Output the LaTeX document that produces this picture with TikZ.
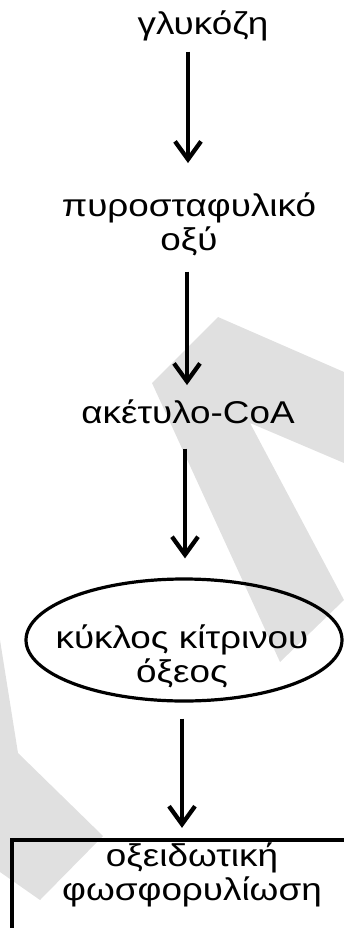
\documentclass[tikz,border=0pt]{standalone}
\usepackage{fontspec}
\setmainfont{Liberation Sans}[FakeStretch=1.17]
\usetikzlibrary{arrows.meta,shapes.geometric}
\definecolor{wm}{RGB}{224,224,224}
\begin{document}
\begin{tikzpicture}[x=1pt,y=-1pt,
  lbl/.style={inner sep=0pt, font=\fontsize{31.5}{34}\selectfont, align=center, anchor=base},
  conn/.style={line width=4.3pt, -{Straight Barb[length=18pt,width=26pt]}},
  ellbox/.style={ellipse, draw, line width=3.2pt, minimum width=316pt, minimum height=122pt, inner sep=0pt},
  rectbox/.style={rectangle, draw, line width=4.3pt, minimum width=356pt, minimum height=110pt, inner sep=0pt}
  ]
\useasboundingbox (0,0) rectangle (344,928);
\clip (0,0) rectangle (344,928);
% watermark
\fill[wm] (152,383) -- (218,317) -- (344,372) -- (344,463) -- (250,423) -- (344,600) -- (280,662) -- cycle;
\fill[wm] (0,640) -- (18,753) -- (103,836) -- (40,900) -- (0,872) -- cycle;
% nodes
\node[lbl] (glu) at (203,35) {γλυκόζη};
\node[lbl] (pyr) at (189,250) {πυροσταφυλικό\\οξύ};
\node[lbl] (acc) at (188,423) {ακέτυλο-CoA};
\node[ellbox] (cyc) at (184,640) {};
\node[lbl] (cyct) at (182,682) {κύκλος κίτρινου\\όξεος};
\node[rectbox] (oxp) at (190,895) {};
\node[lbl] (oxpt) at (192,900) {οξειδωτική\\φωσφορυλίωση};
% connectors
\draw[conn, shorten <=10pt, shorten >=29pt] ([xshift=-15pt]glu.south) -- ([xshift=-1pt]pyr.north);
\draw[conn, shorten <=16pt, shorten >=14pt] ([xshift=-2pt]pyr.south) -- ([xshift=-1pt]acc.north);
\draw[conn, shorten <=25pt, shorten >=19pt] ([xshift=-3pt]acc.south) -- ([xshift=1pt]cyc.north);
\draw[conn, shorten <=16pt, shorten >=10pt] ([xshift=-2pt]cyc.south) -- ([xshift=-8pt]oxp.north);
\end{tikzpicture}
\end{document}
